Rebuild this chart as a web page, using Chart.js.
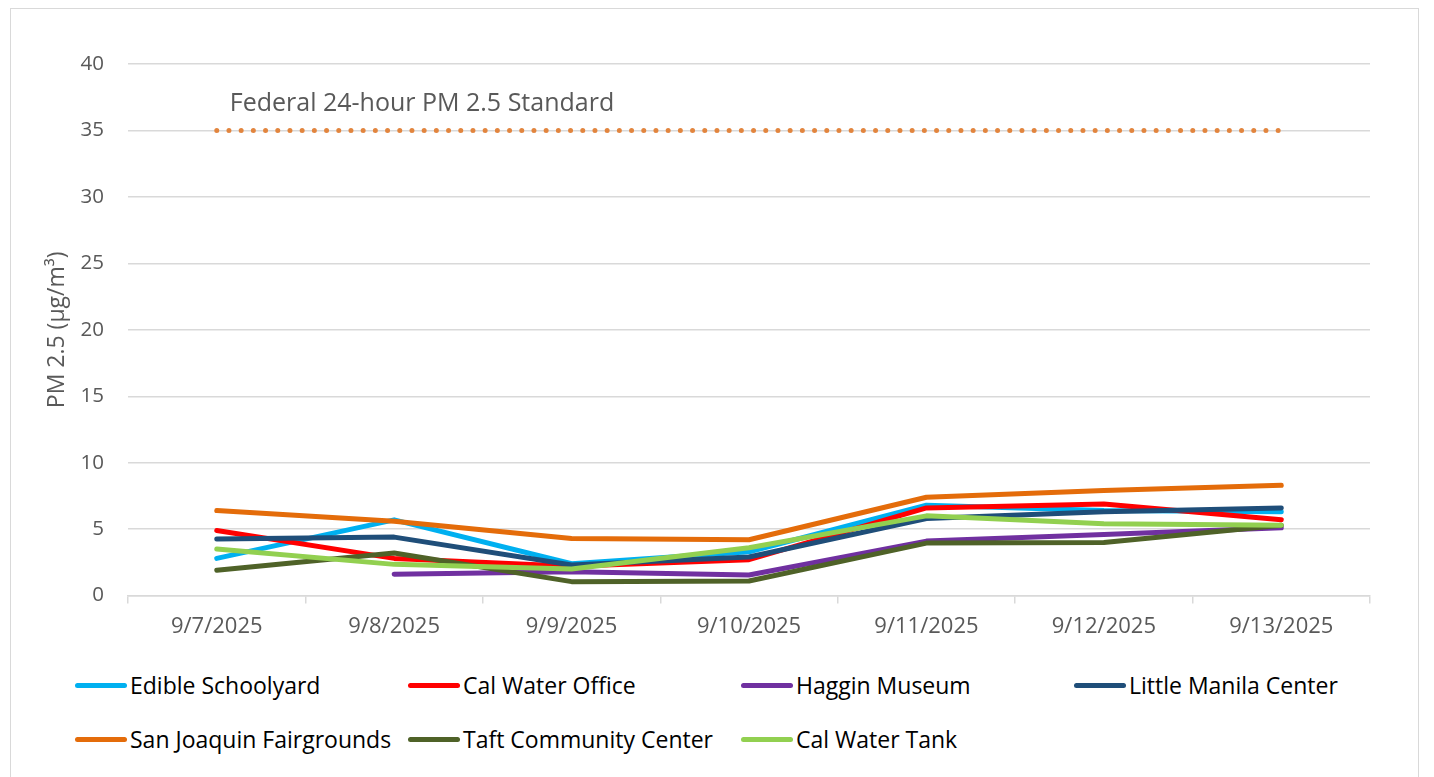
<!DOCTYPE html>
<html>
<head>
<meta charset="utf-8">
<script src="https://cdn.jsdelivr.net/npm/chart.js@4/dist/chart.umd.min.js"></script>
<style>
  html, body { margin: 0; padding: 0; background: #fff; overflow: hidden; }
  body { width: 1434px; height: 777px; position: relative; font-family: "Open Sans", sans-serif; }
  #frame { position: absolute; left: 10px; top: 8px; width: 1409px; height: 800px; border: 1px solid #d9d9d9; box-sizing: border-box; }
  #wrap { position: absolute; left: 0; top: 0; width: 1434px; height: 660px; }
  #legend { position: absolute; left: 75px; top: 670px; display: grid; grid-template-columns: 333px 333px 333px 333px; row-gap: 24px; }
  .item { display: flex; align-items: center; font-size: 23px; color: #000; height: 30px; white-space: nowrap; }
  .swatch { width: 52px; height: 5px; border-radius: 3px; margin-right: 3px; }
</style>
</head>
<body>
<div id="frame"></div>
<div id="wrap"><canvas id="chart"></canvas></div>
<div id="legend"></div>
<script>
// dates on the x axis
const dates = ['9/7/2025', '9/8/2025', '9/9/2025', '9/10/2025', '9/11/2025', '9/12/2025', '9/13/2025']

// PM 2.5 readings (ug/m3) per site
const edibleSchoolyard = [2.8, 5.7, 2.4, 3.3, 6.8, 6.4, 6.3]
const calWaterOffice = [4.9, 2.8, 2.2, 2.7, 6.6, 6.9, 5.7]
const hagginMuseum = [null, 1.6, 1.8, 1.55, 4.1, 4.6, 5.1]
const littleManila = [4.25, 4.4, 2.3, 2.9, 5.8, 6.3, 6.6]
const sanJoaquin = [6.4, 5.6, 4.3, 4.2, 7.4, 7.9, 8.3]
const taftCenter = [1.9, 3.2, 1.05, 1.1, 3.95, 4.0, 5.3]
const calWaterTank = [3.5, 2.35, 2.0, 3.6, 6.0, 5.4, 5.3]

const standardValue = 35
const standardLabel = 'Federal 24-hour PM 2.5 Standard'
const yTicks = [0, 5, 10, 15, 20, 25, 30, 35, 40]

const series = [
    { label: 'Edible Schoolyard', data: edibleSchoolyard, color: '#00B0F0' },
    { label: 'Cal Water Office', data: calWaterOffice, color: '#FF0000' },
    { label: 'Haggin Museum', data: hagginMuseum, color: '#7030A0' },
    { label: 'Little Manila Center', data: littleManila, color: '#1F4E79' },
    { label: 'San Joaquin Fairgrounds', data: sanJoaquin, color: '#E46C0A' },
    { label: 'Taft Community Center', data: taftCenter, color: '#4F6228' },
    { label: 'Cal Water Tank', data: calWaterTank, color: '#92D050' }
]

var datasets = series.map(function (s, i) {
    return {
        label: s.label,
        data: s.data,
        borderColor: s.color,
        backgroundColor: s.color,
        borderWidth: 5,
        borderCapStyle: 'round',
        borderJoinStyle: 'round',
        pointRadius: 0,
        tension: 0,
        order: series.length - i // later series drawn on top, like the original
    }
})

datasets.push({
    label: 'standard',
    data: dates.map(() => standardValue),
    borderColor: '#E2853E',
    borderWidth: 5,
    borderDash: [0, 12.2],
    borderCapStyle: 'round',
    pointRadius: 0,
    order: 20
})

// writes the standard's caption above the dotted line
const standardText = {
    id: 'standardText',
    afterDatasetsDraw(chart) {
        var ctx = chart.ctx
        var x = chart.scales.x.getPixelForValue(0) + 13
        var y = chart.scales.y.getPixelForValue(standardValue) - 27
        ctx.save()
        ctx.font = '25px "Open Sans"'
        ctx.fillStyle = '#595959'
        ctx.textBaseline = 'middle'
        ctx.fillText(standardLabel, x, y)
        ctx.restore()
    }
}

const chart = new Chart(document.getElementById('chart'), {
    type: 'line',
    data: { labels: dates, datasets: datasets },
    options: {
        responsive: true,
        maintainAspectRatio: false,
        animation: false,
        layout: { padding: { left: 44, right: 64, top: 64, bottom: 10 } },
        plugins: {
            legend: { display: false },
            tooltip: { enabled: false }
        },
        scales: {
            x: {
                offset: true,
                grid: { display: true, offset: true, drawOnChartArea: false, color: '#d9d9d9', tickLength: 8, lineWidth: 1.5 },
                border: { color: '#d9d9d9', width: 1.5 },
                ticks: { color: '#595959', font: { family: 'Open Sans', size: 22 }, padding: 10, maxRotation: 0 }
            },
            y: {
                min: 0,
                max: 40,
                afterBuildTicks: function (axis) { axis.ticks = yTicks.map(v => ({ value: v })) },
                grid: { color: '#d9d9d9', lineWidth: 1.5, drawTicks: false },
                border: { display: false },
                ticks: { color: '#595959', font: { family: 'Open Sans', size: 20.5 }, padding: 24 },
                title: { display: true, text: 'PM 2.5 (µg/m³)', color: '#595959', font: { family: 'Open Sans', size: 23 }, padding: { top: 0, bottom: -15 } }
            }
        }
    },
    plugins: [standardText]
})

// legend laid out in fixed columns like the original
var legendEl = document.getElementById('legend')
series.forEach(function (s) {
    var item = document.createElement('div')
    item.className = 'item'
    var sw = document.createElement('span')
    sw.className = 'swatch'
    sw.style.background = s.color
    var txt = document.createElement('span')
    txt.textContent = s.label
    item.appendChild(sw)
    item.appendChild(txt)
    legendEl.appendChild(item)
})
</script>
</body>
</html>
